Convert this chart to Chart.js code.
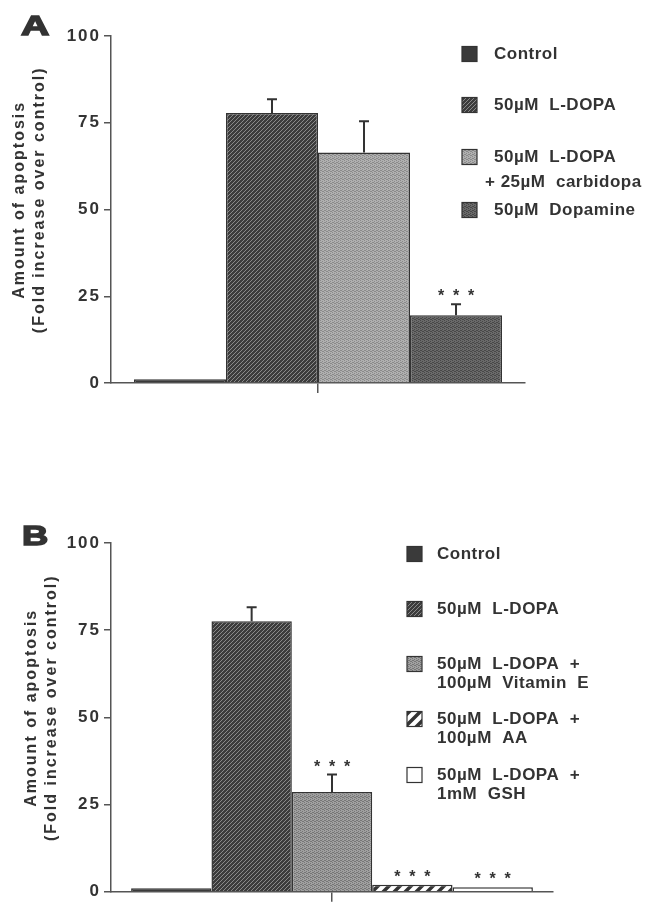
<!DOCTYPE html>
<html>
<head>
<meta charset="utf-8">
<script src="https://cdn.jsdelivr.net/npm/chart.js@4"></script>
<style>
  body { margin: 0; background: #fff; }
  canvas { position: absolute; left: 0; }
  #panelA { top: 0; }
  #panelB { top: 450px; }
</style>
</head>
<body>
<canvas id="panelA" width="646" height="450"></canvas>
<canvas id="panelB" width="646" height="455"></canvas>
<script>
// panel A
let labelsA = ['Control', '50µM  L-DOPA', ['50µM  L-DOPA', '+ 25µM  carbidopa'], '50µM  Dopamine'];
let valuesA = [1.1, 77.8, 66.4, 19.5];
let errorsA = [0, 4.0, 9.0, 3.2];
let starsA = [false, false, false, true];

// panel B
let labelsB = ['Control', '50µM  L-DOPA', ['50µM  L-DOPA  +', '100µM  Vitamin  E'], ['50µM  L-DOPA  +', '100µM  AA'], ['50µM  L-DOPA  +', '1mM  GSH']];
let valuesB = [1.0, 77.6, 28.6, 2.0, 1.3];
let errorsB = [0, 4.0, 5.0, 0, 0];
let starsB = [false, false, true, true, true];

let yTicks = [0, 25, 50, 75, 100];
// leading spaces nudge the centred title a little upwards, as in the print
let yTitle = ['   Amount of apoptosis', '   (Fold increase over control)'];

const FONT = '"Liberation Sans", Arial, Helvetica, sans-serif';
const INK = '#333';

function tile(size, draw) {
    let c = document.createElement('canvas');
    c.width = c.height = size;
    let g = c.getContext('2d');
    draw(g, size);
    return document.createElement('canvas').getContext('2d').createPattern(c, 'repeat');
}

function hatch(bg, fg, size, lw) {
    return tile(size, (g, s) => {
        g.fillStyle = bg;
        g.fillRect(0, 0, s, s);
        g.strokeStyle = fg;
        g.lineWidth = lw;
        g.beginPath();
        g.moveTo(0, s); g.lineTo(s, 0);
        g.moveTo(-s, s); g.lineTo(s, -s);
        g.moveTo(0, 2 * s); g.lineTo(2 * s, 0);
        g.stroke();
    });
}

function stipple(a, b) {
    return tile(4, (g) => {
        g.fillStyle = a;
        g.fillRect(0, 0, 4, 4);
        g.fillStyle = b;
        [[0, 0], [2, 1], [1, 2], [3, 3], [0, 2], [2, 3]].forEach(p => g.fillRect(p[0], p[1], 1, 1));
    });
}

let solidDark = '#3a3a3a';
let lineHatch = hatch('#3c3c3c', '#8a8a8a', 4, 1);
let lightDots = stipple('#b0b0b0', '#8a8a8a');
let darkDots = stipple('#6a6a6a', '#484848');
let midDots = stipple('#a0a0a0', '#767676');
let bigStripe = hatch('#ffffff', '#333333', 11, 3.5);

let fillsA = [solidDark, lineHatch, lightDots, darkDots];
let fillsB = [solidDark, lineHatch, midDots, bigStripe, '#ffffff'];

const figurePlugin = {
    id: 'figure',
    beforeDraw(chart) {
        chart.ctx.letterSpacing = '2px';
    },
    afterDatasetsDraw(chart, args, opts) {
        let ctx = chart.ctx;
        let y = chart.scales.y;
        ctx.save();
        ctx.strokeStyle = INK;
        ctx.lineWidth = 2;
        chart.data.datasets.forEach((ds, i) => {
            let bar = chart.getDatasetMeta(i).data[0];
            let err = opts.errors[i];
            let top = bar.y;
            if (err > 0) {
                top = y.getPixelForValue(ds.data[0] + err);
                ctx.beginPath();
                ctx.moveTo(bar.x, bar.y);
                ctx.lineTo(bar.x, top);
                ctx.moveTo(bar.x - 5, top);
                ctx.lineTo(bar.x + 5, top);
                ctx.stroke();
            }
            if (opts.stars[i]) {
                ctx.fillStyle = INK;
                ctx.letterSpacing = '0px';
                ctx.font = 'bold 16px ' + FONT;
                ctx.textAlign = 'center';
                ctx.textBaseline = 'alphabetic';
                [-15, 0, 15].forEach(dx => ctx.fillText('*', bar.x + dx, top - 12 + 9));
            }
        });
        ctx.restore();
    },
    afterDraw(chart, args, opts) {
        let ctx = chart.ctx;
        ctx.save();
        // legend
        let lg = opts.legend;
        ctx.font = 'bold 17px ' + FONT;
        ctx.letterSpacing = '0.5px';
        ctx.textBaseline = 'middle';
        ctx.textAlign = 'left';
        chart.data.datasets.forEach((ds, i) => {
            let ry = lg.rows[i];
            ctx.fillStyle = ds.backgroundColor;
            ctx.fillRect(lg.x, ry - 7.5, 15, 15);
            ctx.strokeStyle = INK;
            ctx.lineWidth = 1.2;
            ctx.strokeRect(lg.x, ry - 7.5, 15, 15);
            ctx.fillStyle = INK;
            let lines = Array.isArray(ds.label) ? ds.label : [ds.label];
            lines.forEach((t, k) => {
                let tx = lg.textX + (k > 0 ? lg.wrapShift : 0);
                ctx.fillText(t, tx, ry + k * lg.lineGap);
            });
        });
        // panel letter
        let p = opts.letter;
        ctx.font = 'bold 28px ' + FONT;
        ctx.letterSpacing = '0px';
        ctx.textBaseline = 'alphabetic';
        ctx.translate(p.x, p.y);
        ctx.scale(p.sx, 1);
        ctx.fillStyle = INK;
        ctx.strokeStyle = INK;
        ctx.lineWidth = 1.5;
        ctx.fillText(p.text, 0, 0);
        ctx.strokeText(p.text, 0, 0);
        ctx.restore();
    }
};

function panel(id, labels, values, fills, cfg) {
    return new Chart(document.getElementById(id), {
        type: 'bar',
        data: {
            labels: [''],
            datasets: labels.map((l, i) => ({
                label: l,
                data: [values[i]],
                backgroundColor: fills[i],
                borderColor: INK,
                borderWidth: 1.5
            }))
        },
        options: {
            responsive: false,
            animation: false,
            layout: { padding: { top: cfg.top, right: cfg.right, bottom: cfg.bottom, left: 0 } },
            datasets: { bar: { barPercentage: 1, categoryPercentage: cfg.cat } },
            plugins: {
                legend: { display: false },
                tooltip: { enabled: false },
                figure: { errors: cfg.errors, stars: cfg.stars, legend: cfg.legend, letter: cfg.letter }
            },
            scales: {
                x: {
                    grid: { offset: false, drawOnChartArea: false, tickLength: 10, color: '#555', lineWidth: 1.5 },
                    border: { color: '#555', width: 1.5 },
                    ticks: { display: false },
                    afterFit: s => { s.height = cfg.xh; }
                },
                y: {
                    min: 0,
                    max: 100,
                    afterBuildTicks: s => { s.ticks = yTicks.map(v => ({ value: v })); },
                    ticks: { color: INK, font: { family: FONT, size: 17, weight: 'bold' }, padding: 3 },
                    grid: { drawOnChartArea: false, tickLength: 7, color: '#555', lineWidth: 1.5 },
                    border: { color: '#555', width: 1.5 },
                    title: {
                        display: true,
                        text: yTitle,
                        color: INK,
                        font: { family: FONT, size: 16, weight: 'bold', lineHeight: 1.25 },
                        padding: { top: cfg.titlePad }
                    },
                    afterFit: s => { s.width = 111; }
                }
            }
        },
        plugins: [figurePlugin]
    });
}

panel('panelA', labelsA, valuesA, fillsA, {
    top: 36, right: 121, bottom: 47, xh: 20, cat: 0.889, titlePad: 10,
    errors: errorsA, stars: starsA,
    legend: { x: 462, textX: 494, rows: [54, 105, 157, 210], lineGap: 25, wrapShift: -9 },
    letter: { text: 'A', x: 21, y: 35, sx: 1.4 }
});

panel('panelB', labelsB, valuesB, fillsB, {
    top: 93, right: 93, bottom: 0, xh: 3, cat: 0.909, titlePad: 22,
    errors: errorsB, stars: starsB,
    legend: { x: 407, textX: 437, rows: [104, 159, 214, 269, 325], lineGap: 19, wrapShift: 0 },
    letter: { text: 'B', x: 22, y: 95, sx: 1.3 }
});
</script>
</body>
</html>
